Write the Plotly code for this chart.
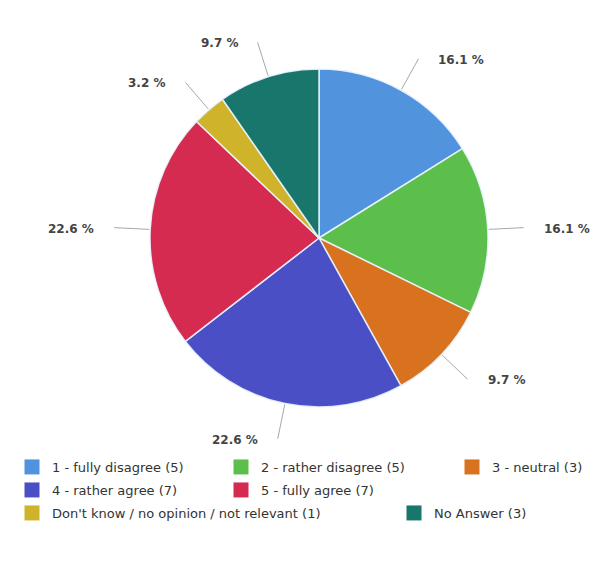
import numpy as np
import plotly.graph_objects as go

# Survey answers
categories = [
    "1 - fully disagree",
    "2 - rather disagree",
    "3 - neutral",
    "4 - rather agree",
    "5 - fully agree",
    "Don't know / no opinion / not relevant",
    "No Answer",
]
counts = [5, 5, 3, 7, 7, 1, 3]
colors = ["#5193dc", "#5cbf4b", "#d8721f", "#4b4fc6", "#d52b51", "#cfb42b", "#18766d"]

# legend slots: square centre x px, row centre y px
legend_slots = [(36, 467), (245, 467), (476, 467),
                (36, 490), (245, 490),
                (36, 513), (418, 513)]

W, H = 612, 561
cx, cy, r = 319, 238, 169

total = sum(counts)
pct = [100.0 * c / total for c in counts]

fig = go.Figure()
fig.add_trace(go.Pie(
    labels=categories,
    values=counts,
    sort=False,
    direction="clockwise",
    rotation=0,
    marker=dict(colors=colors, line=dict(color="rgba(235,245,255,0.9)", width=1.5)),
    textinfo="none",
    hoverinfo="label+percent",
    showlegend=False,
    domain=dict(x=[(cx - r) / W, (cx + r) / W], y=[1 - (cy + r) / H, 1 - (cy - r) / H]),
))

# percentage labels with connector lines, placed around each slice's mid angle
shapes, annotations = [], []
cum = np.cumsum([0] + counts)
mid = (cum[:-1] + cum[1:]) / 2.0 / total * 2 * np.pi
r_out = r + 36
gap = 18
for i, a in enumerate(mid):
    sx, sy = cx + (r + 1) * np.sin(a), cy - (r + 1) * np.cos(a)
    ex, ey = cx + r_out * np.sin(a), cy - r_out * np.cos(a)
    shapes.append(dict(type="line", xref="paper", yref="paper",
                       x0=sx / W, y0=1 - sy / H, x1=ex / W, y1=1 - ey / H,
                       line=dict(color="#a8a8a8", width=1)))
    right = np.sin(a) >= 0
    tx = ex + gap if right else ex - gap
    annotations.append(dict(
        x=tx / W, y=1 - (ey + 1) / H, xref="paper", yref="paper",
        text=f"{pct[i]:.1f} %", showarrow=False,
        xanchor="left" if right else "right", yanchor="middle",
        font=dict(family="DejaVu Sans, sans-serif", size=12, color="#444444", weight="bold"),
    ))

# legend entries, one small legend per entry so each sits in its own slot
layout_legends = {}
for i, (name, n, col) in enumerate(zip(categories, counts, colors)):
    key = "legend" if i == 0 else f"legend{i + 1}"
    fig.add_trace(go.Scatter(
        x=[None], y=[None], mode="markers", name=f"{name} ({n})",
        marker=dict(symbol="square", size=15, color=col, line=dict(width=0)),
        legend=key, showlegend=True, hoverinfo="skip",
    ))
    sx, sy = legend_slots[i]
    layout_legends[key] = dict(
        x=(sx - 24) / W, y=1 - sy / H, xanchor="left", yanchor="middle",
        orientation="h", bgcolor="rgba(0,0,0,0)", borderwidth=0,
        font=dict(family="DejaVu Sans, sans-serif", size=13, color="#333333"),
        itemwidth=30, itemclick=False, itemdoubleclick=False,
    )

fig.update_layout(
    width=W, height=H,
    margin=dict(l=0, r=0, t=0, b=0),
    paper_bgcolor="#ffffff",
    plot_bgcolor="#ffffff",
    xaxis=dict(visible=False),
    yaxis=dict(visible=False),
    shapes=shapes,
    annotations=annotations,
    **layout_legends,
)

fig.write_html("out.html")
